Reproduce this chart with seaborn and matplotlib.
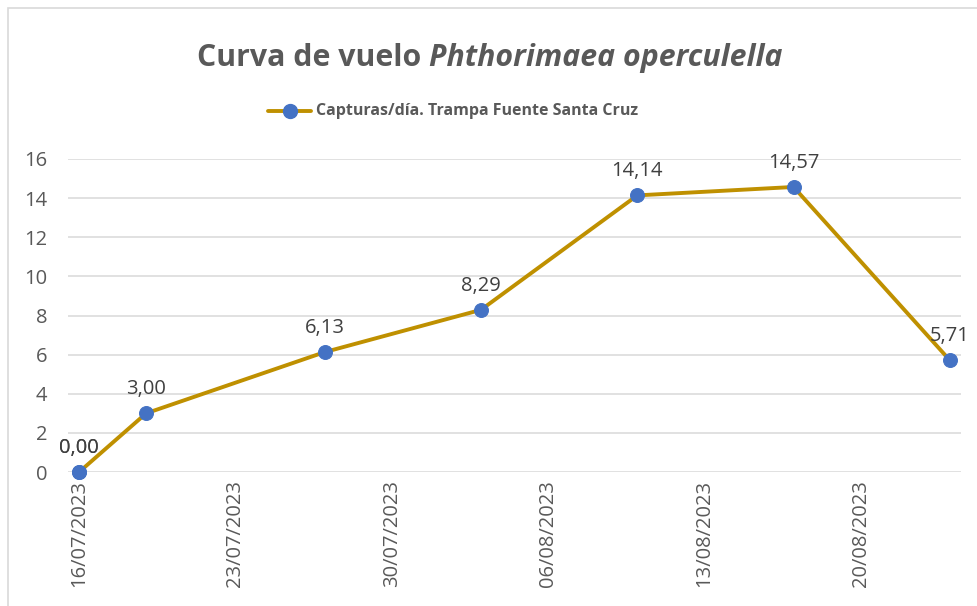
import matplotlib
matplotlib.use("Agg")
import matplotlib.pyplot as plt
import matplotlib.dates as mdates
from matplotlib.lines import Line2D
from matplotlib.patches import Rectangle
import seaborn as sns
import pandas as pd
import numpy as np

dates = ["2023-07-16", "2023-07-16", "2023-07-19", "2023-07-27", "2023-08-03",
         "2023-08-10", "2023-08-17", "2023-08-24"]
capturas = [0.00, 0.00, 3.00, 6.13, 8.29, 14.14, 14.57, 5.71]
series_name = "Capturas/día. Trampa Fuente Santa Cruz"
title_plain = "Curva de vuelo "
title_italic = "Phthorimaea operculella"
y_ticks = [0, 2, 4, 6, 8, 10, 12, 14, 16]

df = pd.DataFrame({"fecha": pd.to_datetime(dates), "valor": capturas})

sns.set_theme(style="white")
FONT = ["Open Sans", "DejaVu Sans"]
plt.rcParams["font.family"] = FONT

W, H = 977, 606
fig = plt.figure(figsize=(W / 100, H / 100), dpi=100)
fig.patch.set_facecolor("white")

# chart border
fig.add_artist(Rectangle((8 / W, -0.01), 1.02, (H - 8) / H + 0.01, transform=fig.transFigure,
                         fill=False, edgecolor="#D9D9D9", linewidth=1.2))

ax = fig.add_axes([68 / W, (H - 472) / H, (961 - 68) / W, (472 - 159) / H])

LINE_C = "#BF9000"
MARK_C = "#4472C4"
TXT_C = "#595959"
TICK_FS = 14.5

sns.lineplot(data=df, x="fecha", y="valor", ax=ax, estimator=None, sort=False,
             color=LINE_C, linewidth=2.8, marker="o", markersize=10,
             markerfacecolor=MARK_C, markeredgecolor=MARK_C, legend=False, zorder=3,
             clip_on=False)

start = pd.Timestamp("2023-07-16") - pd.Timedelta(hours=12)
end = pd.Timestamp("2023-08-24") + pd.Timedelta(hours=12)
ax.set_xlim(start, end)
ax.set_ylim(0, 16)
ax.set_yticks(y_ticks)
ax.set_yticklabels([str(t) for t in y_ticks], color=TXT_C, fontsize=TICK_FS)

xt = pd.date_range("2023-07-16", "2023-08-20", freq="7D")
ax.set_xticks(xt)
ax.xaxis.set_major_formatter(mdates.DateFormatter("%d/%m/%Y"))
for lab in ax.get_xticklabels():
    lab.set_rotation(90)
    lab.set_color(TXT_C)
    lab.set_fontsize(TICK_FS)
    lab.set_va("top")
    lab.set_ha("center")

ax.tick_params(axis="y", length=0, pad=15)
ax.tick_params(axis="x", length=0, pad=6)
ax.grid(axis="y", color="#D9D9D9", linewidth=1.1)
ax.set_axisbelow(True)
for s in ax.spines.values():
    s.set_visible(False)
ax.set_xlabel("")
ax.set_ylabel("")

for d, v in zip(df["fecha"], df["valor"]):
    ax.annotate(f"{v:.2f}".replace(".", ","), (d, v), xytext=(0, 10),
                textcoords="offset points", ha="center", va="bottom",
                fontsize=TICK_FS, color="#404040", clip_on=False)

# title (bold + bold italic)
fig.canvas.draw()
r = fig.canvas.get_renderer()
ts = 21.8
t1 = fig.text(0, 0, title_plain, fontsize=ts, fontweight="bold", color=TXT_C)
t2 = fig.text(0, 0, title_italic, fontsize=ts, fontweight="bold", style="italic", color=TXT_C)
w1 = t1.get_window_extent(r).width
w2 = t2.get_window_extent(r).width
x0 = 490 - (w1 + w2) / 2
ty = (H - 58) / H
t1.set_position((x0 / W, ty)); t1.set_va("center")
t2.set_position(((x0 + w1) / W, ty)); t2.set_va("center")

# legend
ly = (H - 111) / H
fig.add_artist(Line2D([268 / W, 311 / W], [ly, ly], color=LINE_C, linewidth=2.8,
                      transform=fig.transFigure))
fig.add_artist(Line2D([289.5 / W], [ly], color=MARK_C, marker="o", markersize=10,
                      transform=fig.transFigure, linestyle="none"))
fig.text(316 / W, ly, series_name, fontsize=11.5, fontweight="bold", color=TXT_C,
         va="center", ha="left")

fig.savefig("out.png", dpi=100, facecolor="white")
